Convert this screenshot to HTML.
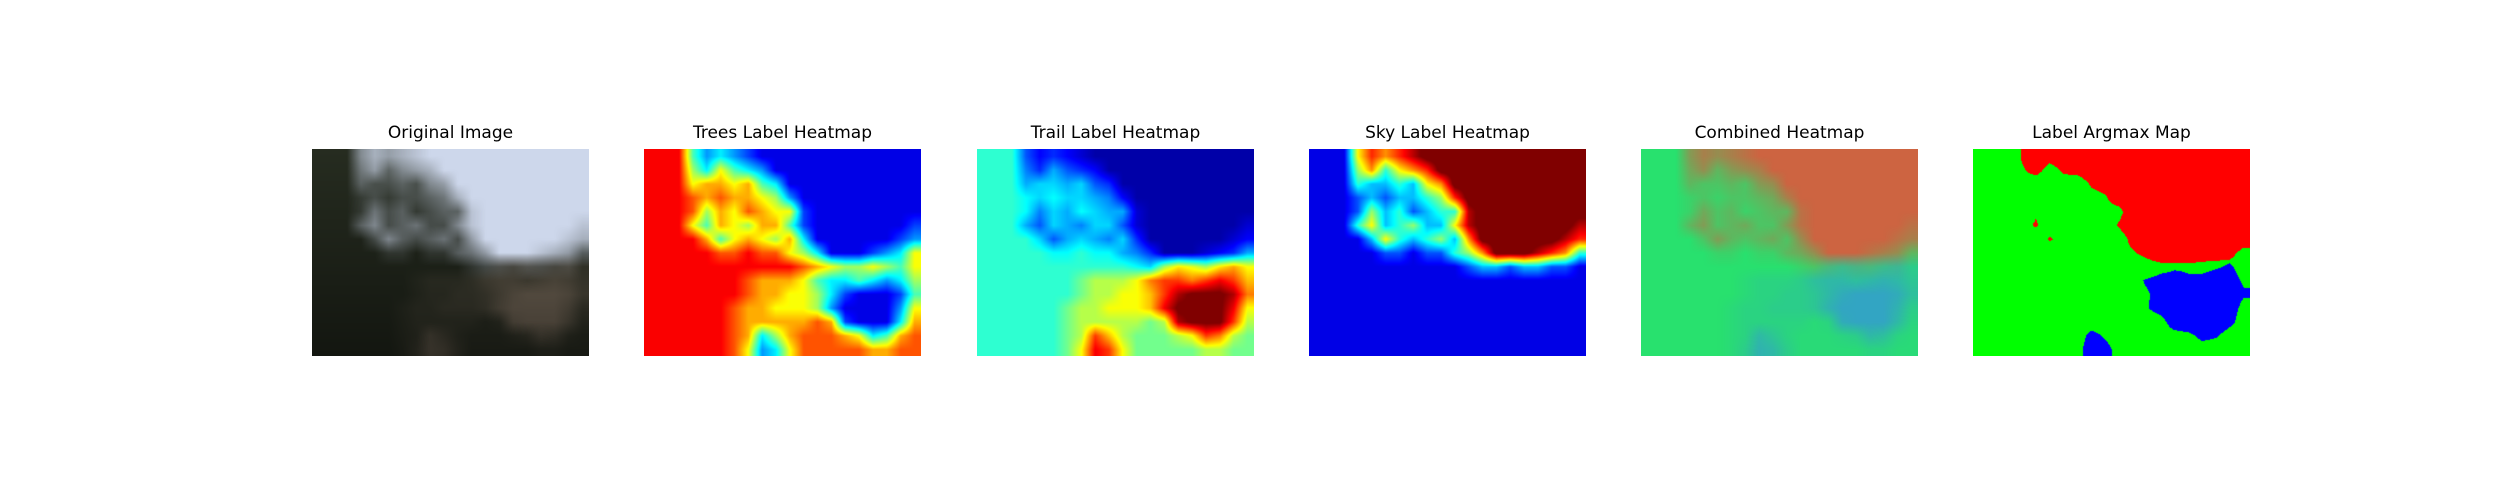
<!DOCTYPE html>
<html><head><meta charset="utf-8">
<style>
body{margin:0;width:2500px;height:500px;background:#fff;position:relative;overflow:hidden;font-family:"Liberation Sans","DejaVu Sans",sans-serif}
.t{position:absolute;top:123px;width:277px;text-align:center;font-size:17px;color:#000;font-family:"DejaVu Sans","Liberation Sans",sans-serif}
canvas{position:absolute;top:149px;width:277px;height:207px}
</style></head><body>
<div class="t" style="left:312px">Original Image</div>
<div class="t" style="left:644px">Trees Label Heatmap</div>
<div class="t" style="left:977px">Trail Label Heatmap</div>
<div class="t" style="left:1309px">Sky Label Heatmap</div>
<div class="t" style="left:1641px">Combined Heatmap</div>
<div class="t" style="left:1973px">Label Argmax Map</div>
<canvas id="c0" width="277" height="207" style="left:312px"></canvas>
<canvas id="c1" width="277" height="207" style="left:644px"></canvas>
<canvas id="c2" width="277" height="207" style="left:977px"></canvas>
<canvas id="c3" width="277" height="207" style="left:1309px"></canvas>
<canvas id="c4" width="277" height="207" style="left:1641px"></canvas>
<canvas id="c5" width="277" height="207" style="left:1973px"></canvas>
<script>
const skyGrid=[
"00057678999999999999","00046356799999999999","00032232569999999999","00012122347999999999",
"00014231233899999999","00035234225899999998","00002532342699999987","00000110113469998763",
"00000000000122122110","00000000000000000000","00000000000000000000","00000000000000000000",
"00000000000000000000","00000000000000000000","00000000000000000000"];
const trailGrid=[
"00000000000000000000","00000000000000000000","00000000000000000000","00000000000000000000",
"00000000000000000000","00000000000000000000","00000000000000000000","00000000000000000000",
"00000000000003443453","00000001222356656764","00000001223346899985","00000012233347999973",
"00000012222212899962","00000012642111236521","00000013763111112211"];
const treesGrid=[
"99942321000000000000","99953643200000000000","99967767430000000000","99987877652000000000",
"99985768766100000000","99964765774100000001","99997467657300000012","99999889886530001236",
"99999999999876556546","99999998777643343235","99999998776653100014","99999987766652000026",
"99999987777787100037","99999987357888763478","99999986236888887788"];
const W=277,H=207,C=20,R=15;
function samp(g,x,y){
  const gx=Math.min(C-1,Math.max(0,x/W*C-0.5)),gy=Math.min(R-1,Math.max(0,y/H*R-0.5));
  const x0=Math.floor(gx),y0=Math.floor(gy),x1=Math.min(C-1,x0+1),y1=Math.min(R-1,y0+1),fx=gx-x0,fy=gy-y0;
  const v=(r,c)=>+g[r][c];
  return ((v(y0,x0)*(1-fx)+v(y0,x1)*fx)*(1-fy)+(v(y1,x0)*(1-fx)+v(y1,x1)*fx)*fy)/9;
}
function jet(t){t=Math.max(0,Math.min(1,t));
  const f=a=>Math.max(0,Math.min(1,1.5-Math.abs(4*t-a)));
  return [f(3)*255,f(2)*255,f(1)*255];}
const ctx=[0,1,2,3,4,5].map(i=>document.getElementById('c'+i).getContext('2d'));
const imgs=ctx.map(c=>c.createImageData(W,H));
for(let y=0;y<H;y++)for(let x=0;x<W;x++){
  const s=samp(skyGrid,x,y),tr=samp(trailGrid,x,y),te=samp(treesGrid,x,y);
  const i=(y*W+x)*4;
  const sum=s+tr+te+0.001,ws=s/sum,wt=tr/sum,we=te/sum;
  const dark=1-0.5*(y/H);
  const cols=[
    [(ws*205+wt*125*dark+we*38*dark), (ws*215+wt*112*dark+we*44*dark), (ws*235+wt*95*dark+we*32*dark)],
    jet(te*0.78+0.1),
    jet(tr*0.6+0.38*(1-s)+0.04),
    jet(s*0.95+0.1),
    [ws*205+wt*50+we*40, ws*100+wt*165+we*225, ws*65+wt*195+we*110],
    s>=tr&&s>=te?[255,0,0]:(tr>te?[0,0,255]:[0,255,0])
  ];
  for(let k=0;k<6;k++){const d=imgs[k].data;d[i]=cols[k][0];d[i+1]=cols[k][1];d[i+2]=cols[k][2];d[i+3]=255;}
}
imgs.forEach((im,k)=>ctx[k].putImageData(im,0,0));
</script>
</body></html>
